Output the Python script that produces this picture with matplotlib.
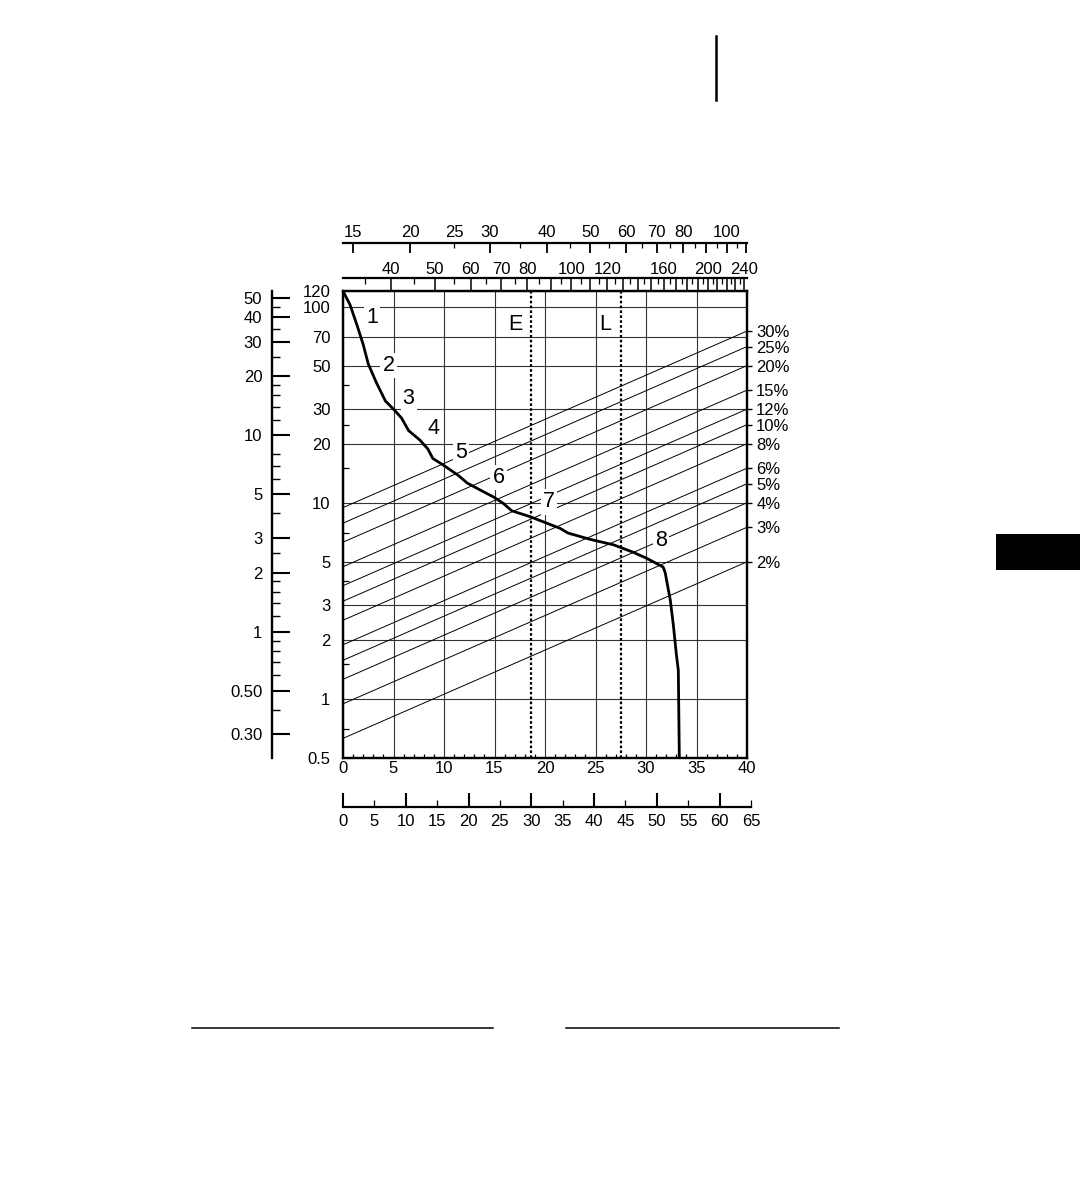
import numpy as np
import matplotlib
matplotlib.use("Agg")
import matplotlib.pyplot as plt
from matplotlib.ticker import FixedLocator, FixedFormatter, NullFormatter, NullLocator
from matplotlib.lines import Line2D
from matplotlib.patches import Rectangle

plt.rcParams['font.family'] = ['Liberation Sans', 'DejaVu Sans']

W, H = 1080, 1178
TICK_FS = 12
LABEL_FS = 15.5

# curve: speed (mph, bottom scale) vs load (left inner scale)
speed = [0, 0.7, 1.4, 2.0, 2.5, 3.3, 4.2, 5.0, 5.8, 6.5, 7.6, 8.4, 8.9, 9.9,
         11.4, 12.3, 13.6, 14.9, 15.9, 16.7, 18.5, 21.5, 22.3, 24.5, 26.8,
         28.7, 30.1, 31.7, 31.9, 32.4, 32.7, 33.0, 33.2, 33.3]
load = [120, 102, 80, 64, 51, 41, 33, 30, 27, 23.3, 20.9, 18.8, 16.8, 15.6,
        13.8, 12.6, 11.6, 10.7, 9.9, 9.1, 8.5, 7.4, 7.0, 6.5, 6.1,
        5.6, 5.2, 4.7, 4.4, 3.2, 2.4, 1.7, 1.4, 0.5]

# numbered segment labels on the curve
seg_names = ['1', '2', '3', '4', '5', '6', '7', '8']
seg_speed = [2.9, 4.5, 6.5, 9.0, 11.7, 15.4, 20.4, 31.5]
seg_load = [88, 50, 34, 24, 18, 13.5, 10.1, 6.4]

# dotted marker lines
mark_names = ['E', 'L']
mark_speed = [18.6, 27.5]
mark_label_speed = [17.1, 26.0]
mark_label_load = 81

# main axes scales
speed_ticks = [0, 5, 10, 15, 20, 25, 30, 35, 40]
load_ticks = [0.5, 1, 2, 3, 5, 10, 20, 30, 50, 70, 100, 120]
load_labels = ['0.5', '1', '2', '3', '5', '10', '20', '30', '50', '70', '100', '120']
load_minor = [0.7, 1.5, 4, 7, 15, 25, 40]

# grade lines (right scale, %)
grade_pct = [30, 25, 20, 15, 12, 10, 8, 6, 5, 4, 3, 2]
LOAD_PER_PCT = 2.5
GRADE_DROP = 0.9   # decades the grade lines fall across the chart

# outer left scale (kg)
LB_PER_KG = 2.2046
kg_left_major = [0.3, 0.5, 1, 2, 3, 5, 10, 20, 30, 40, 50]
kg_left_labels = ['0.30', '0.50', '1', '2', '3', '5', '10', '20', '30', '40', '50']
kg_left_minor = [0.4, 0.6, 0.7, 0.8, 0.9, 1.2, 1.4, 1.6, 1.8, 2.5, 4, 6, 7, 8,
                 12, 14, 16, 18, 25, 35, 45]

# top scales (log)
KG_MIN, KG_MAX = 14.23, 110.7
kg_top_major = [15, 20, 30, 40, 50, 60, 70, 80, 90, 100, 110]
kg_top_labels = ['15', '20', '30', '40', '50', '60', '70', '80', '', '100', '']
kg_top_minor = [25, 35, 45, 55, 65, 75, 85, 95, 105]
kg_top_minor_labels = ['25', '', '', '', '', '', '', '', '']
lb_major = list(range(40, 241, 10))
lb_labeled = [40, 50, 60, 70, 80, 100, 120, 160, 200, 240]
lb_minor = list(range(35, 240, 10))

# bottom second scale (km/h)
KMH_PER_MPH = 1.609
kmh_major = [0, 10, 20, 30, 40, 50, 60]
kmh_minor = [5, 15, 25, 35, 45, 55, 65]


def fx(px):
    return px / W


def fy(py):
    return 1 - py / H


fig = plt.figure(figsize=(W / 100, H / 100), dpi=100)

ax = fig.add_axes([fx(343), fy(758), 404 / W, 467 / H])
ax.set_xlim(0, 40)
ax.set_yscale('log')
ax.set_ylim(0.5, 120)
ax.set_xticks(speed_ticks)
ax.set_xticks(np.arange(0, 41, 1), minor=True)
ax.yaxis.set_major_locator(FixedLocator(load_ticks))
ax.yaxis.set_major_formatter(FixedFormatter(load_labels))
ax.yaxis.set_minor_locator(FixedLocator(load_minor))
ax.yaxis.set_minor_formatter(NullFormatter())
ax.tick_params(axis='x', which='major', length=0, labelsize=TICK_FS, pad=2)
ax.tick_params(axis='y', which='major', length=0, labelsize=TICK_FS, pad=9)
ax.tick_params(axis='x', which='minor', direction='in', length=3, width=0.9)
ax.tick_params(axis='y', which='minor', direction='in', length=4.5, width=0.9)
ax.grid(which='major', color='#333333', lw=0.8)
for s in ax.spines.values():
    s.set_linewidth(1.6)

# grade lines
for p in grade_pct:
    v_right = p * LOAD_PER_PCT
    ax.plot([0, 40], [v_right * 10 ** -GRADE_DROP, v_right], color='k', lw=0.7, zorder=2)

# dotted markers
for s, ls_x, name in zip(mark_speed, mark_label_speed, mark_names):
    ax.axvline(s, color='k', lw=1.6, ls=(0, (1.2, 1.0)), zorder=3)
    ax.text(ls_x, mark_label_load, name, fontsize=LABEL_FS, ha='center', va='center', zorder=5)

ax.plot(speed, load, color='k', lw=2.0, zorder=4, solid_joinstyle='round')
for name, sx, sy in zip(seg_names, seg_speed, seg_load):
    ax.text(sx, sy, name, fontsize=LABEL_FS, ha='center', va='center', zorder=5,
            bbox=dict(facecolor='white', edgecolor='none', pad=1.5))

# right grade scale
ax_r = ax.twinx()
ax_r.set_yscale('log')
ax_r.set_ylim(0.5 / LOAD_PER_PCT, 120 / LOAD_PER_PCT)
ax_r.yaxis.set_major_locator(FixedLocator(grade_pct))
ax_r.yaxis.set_major_formatter(FixedFormatter([f'{p}%' for p in grade_pct]))
ax_r.yaxis.set_minor_locator(NullLocator())
ax_r.tick_params(axis='y', length=3.6, width=1, pad=3, labelsize=TICK_FS)
for s in ax_r.spines.values():
    s.set_linewidth(1.6)

# outer left kg scale
ax_kg = fig.add_axes([fx(272), fy(758), 10 / W, 467 / H])
ax_kg.patch.set_visible(False)
ax_kg.set_yscale('log')
ax_kg.set_ylim(0.5 / LB_PER_KG, 120 / LB_PER_KG)
ax_kg.yaxis.set_major_locator(FixedLocator(kg_left_major))
ax_kg.yaxis.set_major_formatter(FixedFormatter(kg_left_labels))
ax_kg.yaxis.set_minor_locator(FixedLocator(kg_left_minor))
ax_kg.yaxis.set_minor_formatter(NullFormatter())
ax_kg.set_xticks([])
for side in ['top', 'right', 'bottom']:
    ax_kg.spines[side].set_visible(False)
ax_kg.spines['left'].set_linewidth(1.7)
ax_kg.tick_params(axis='y', which='major', direction='in', length=13, width=1.5,
                  labelsize=TICK_FS, pad=7)
ax_kg.tick_params(axis='y', which='minor', direction='in', length=5.5, width=1.0)

# top lb scale (just above frame)
ax_lb = fig.add_axes([fx(343), fy(291), 404 / W, 13 / H])
ax_lb.patch.set_visible(False)
ax_lb.set_xscale('log')
ax_lb.set_xlim(KG_MIN * LB_PER_KG, KG_MAX * LB_PER_KG)
ax_lb.xaxis.tick_top()
ax_lb.xaxis.set_major_locator(FixedLocator(lb_major))
ax_lb.xaxis.set_major_formatter(FixedFormatter([str(v) if v in lb_labeled else '' for v in lb_major]))
ax_lb.xaxis.set_minor_locator(FixedLocator(lb_minor))
ax_lb.xaxis.set_minor_formatter(NullFormatter())
ax_lb.set_yticks([])
for side in ['left', 'right', 'bottom']:
    ax_lb.spines[side].set_visible(False)
ax_lb.spines['top'].set_linewidth(1.6)
ax_lb.tick_params(axis='x', which='major', direction='in', length=9.4, width=1.1,
                  labelsize=TICK_FS, pad=1)
ax_lb.tick_params(axis='x', which='minor', direction='in', length=4.3, width=0.9)

# top kg scale
ax_kt = fig.add_axes([fx(343), fy(253), 404 / W, 10 / H])
ax_kt.patch.set_visible(False)
ax_kt.set_xscale('log')
ax_kt.set_xlim(KG_MIN, KG_MAX)
ax_kt.xaxis.tick_top()
ax_kt.xaxis.set_major_locator(FixedLocator(kg_top_major))
ax_kt.xaxis.set_major_formatter(FixedFormatter(kg_top_labels))
ax_kt.xaxis.set_minor_locator(FixedLocator(kg_top_minor))
ax_kt.xaxis.set_minor_formatter(FixedFormatter(kg_top_minor_labels))
ax_kt.set_yticks([])
for side in ['left', 'right', 'bottom']:
    ax_kt.spines[side].set_visible(False)
ax_kt.spines['top'].set_linewidth(1.6)
ax_kt.tick_params(axis='x', which='major', direction='in', length=7.2, width=1.3,
                  labelsize=TICK_FS, pad=2)
ax_kt.tick_params(axis='x', which='minor', direction='in', length=3.6, width=0.9,
                  labelsize=TICK_FS, pad=2)

# bottom km/h scale
kmh_max = 65
ax_km = fig.add_axes([fx(343), fy(807), 404 * kmh_max / (40 * KMH_PER_MPH) / W, 10 / H])
ax_km.patch.set_visible(False)
ax_km.set_xlim(0, kmh_max)
ax_km.set_xticks(kmh_major)
ax_km.set_xticks(kmh_minor, minor=True)
ax_km.xaxis.set_minor_formatter(FixedFormatter([str(v) for v in kmh_minor]))
ax_km.set_yticks([])
for side in ['left', 'right', 'top']:
    ax_km.spines[side].set_visible(False)
ax_km.spines['bottom'].set_linewidth(1.6)
ax_km.tick_params(axis='x', which='major', direction='in', length=10, width=1.5,
                  labelsize=TICK_FS, pad=5)
ax_km.tick_params(axis='x', which='minor', direction='in', length=5, width=0.9,
                  labelsize=TICK_FS, pad=5)

# page marks from the scan
fig.add_artist(Line2D([fx(716), fx(716)], [fy(36), fy(100)], color='k', lw=1.8))
fig.add_artist(Rectangle((fx(996), fy(570)), (W - 996) / W, 36 / H,
                         transform=fig.transFigure, facecolor='k', edgecolor='none'))
fig.add_artist(Line2D([fx(192), fx(493)], [fy(1028), fy(1028)], color='k', lw=1.1))
fig.add_artist(Line2D([fx(566), fx(839)], [fy(1028), fy(1028)], color='k', lw=1.1))

fig.savefig('out.png', dpi=100, facecolor='white')
